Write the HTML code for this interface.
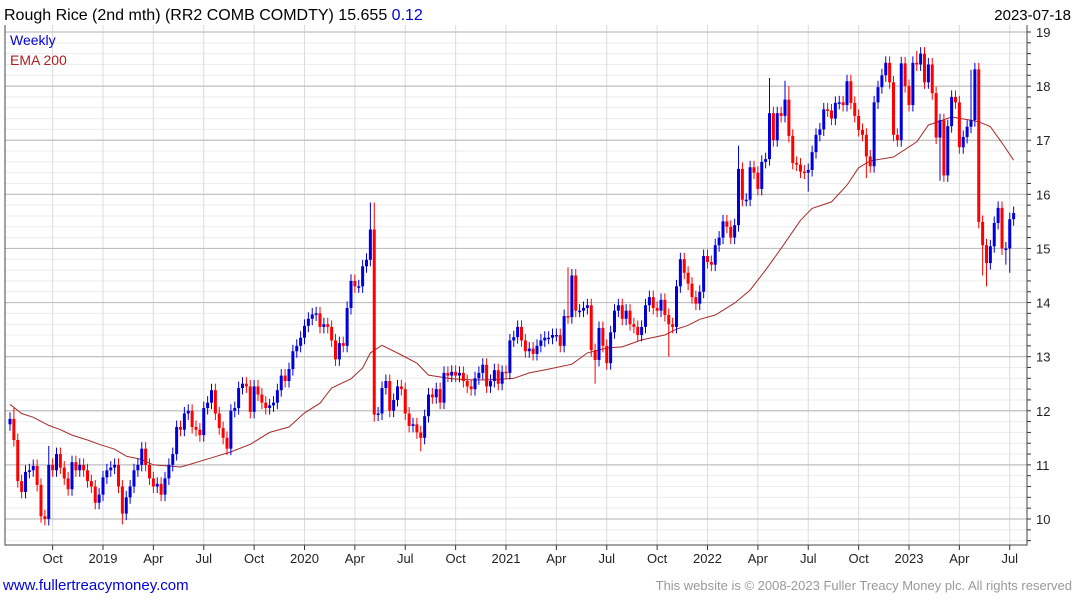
<!DOCTYPE html>
<html><head><meta charset="utf-8"><style>
body{margin:0;background:#fff;width:1075px;height:600px;overflow:hidden;font-family:"Liberation Sans",sans-serif}
</style></head><body>
<svg id="chart" width="1075" height="600" xmlns="http://www.w3.org/2000/svg" font-family="Liberation Sans, sans-serif">
<text x="4" y="20" font-size="16" fill="#000">Rough Rice (2nd mth) (RR2 COMB COMDTY) 15.655 <tspan fill="#0000dd">0.12</tspan></text>
<text x="1071" y="20" font-size="15" fill="#000" text-anchor="end">2023-07-18</text>
<g id="grid"></g><g id="ema"></g><g id="candles"></g><g id="axes"></g>
<text x="10" y="45" font-size="14" fill="#0000dd">Weekly</text>
<text x="10" y="65" font-size="14" fill="#b02020">EMA 200</text>
<text x="3" y="590" font-size="15" fill="#0000dd">www.fullertreacymoney.com</text>
<text x="1072" y="590" font-size="13" fill="#999" text-anchor="end">This website is © 2008-2023 Fuller Treacy Money plc. All rights reserved</text>
</svg>
<script>
const closes=[11.85,11.46,10.7,10.5,10.87,10.9,10.98,10.63,10.05,10.0,11.0,10.9,11.2,10.95,10.75,10.55,11.05,10.9,11.0,10.9,10.7,10.6,10.3,10.45,10.77,10.9,10.95,11.0,10.6,10.1,10.4,10.6,10.9,11.0,11.3,11.0,10.75,10.6,10.65,10.45,10.75,11.0,11.2,11.7,
11.65,11.95,12.0,11.7,11.65,11.55,12.05,12.15,12.38,11.95,11.68,11.5,11.3,12.0,12.05,12.42,12.5,12.45,11.98,12.45,12.3,12.15,12.05,12.1,12.15,12.38,12.65,12.55,12.77,13.1,13.2,13.35,13.57,13.7,13.78,13.8,13.55,13.6,13.55,13.3,12.95,13.25,13.2,
13.9,14.4,14.3,14.3,14.67,14.79,15.35,11.93,11.95,12.42,12.55,12.0,12.2,12.45,12.4,11.95,11.72,11.75,11.6,11.5,11.9,12.3,12.25,12.4,12.15,12.7,12.65,12.72,12.65,12.7,12.55,12.45,12.4,12.6,12.7,12.85,12.45,12.55,12.75,12.5,12.72,12.7,13.3,
13.36,13.55,13.3,13.1,13.15,13.05,13.2,13.3,13.35,13.35,13.4,13.4,13.2,13.75,13.73,14.5,13.85,13.85,13.9,13.95,13.12,12.94,13.53,13.2,12.88,13.45,13.85,13.95,13.7,13.85,13.6,13.55,13.4,13.55,13.95,14.1,13.9,13.85,14.05,13.77,13.6,13.55,14.3,14.8,
14.55,14.35,14.1,13.98,14.2,14.86,14.75,14.7,15.06,15.2,15.5,15.4,15.2,15.43,16.47,15.9,15.9,16.5,16.4,16.1,16.6,16.65,17.5,17.0,17.5,17.45,17.75,17.08,16.58,16.55,16.42,16.4,16.45,16.78,17.1,17.2,17.57,17.55,17.4,17.69,17.7,17.65,18.09,17.69,17.45,
17.19,17.1,16.7,16.52,17.7,17.98,18.2,18.43,18.07,17.1,17.0,18.42,18.0,17.65,18.43,18.4,18.6,18.07,18.4,17.87,17.05,17.37,16.35,17.26,17.8,17.7,16.87,17.06,17.25,17.37,18.31,15.49,15.06,14.73,15.04,15.47,15.75,15.0,15.0,15.54,15.655];
const firstOpen=11.75;
const highOverrideIdx=[1,9,10,93,94,144,188,196,200,201,216,234,248,249];
const highOverrideVal=[12.05,10.1,11.35,15.85,15.85,14.65,16.9,18.15,18.1,18.0,18.15,18.65,18.3,18.4];
const lowOverrideIdx=[8,9,10,29,94,106,151,170,206,221,240,251,252,257,258];
const lowOverrideVal=[9.95,9.9,9.95,9.9,11.8,11.25,12.5,13.0,16.05,16.3,16.25,14.5,14.3,14.7,14.55];
const emaWeek=[0,3,6,10,13,16,20,23,27,30,34,37,41,44,46,52,57,62,67,72,76,80,83,88,91,93,96,101,105,108,114,119,123,126,130,134,139,145,149,154,158,163,169,172,175,178,182,187,191,195,199,204,207,212,216,219,222,228,234,237,243,248,250,253,256,259];
const emaVal=[12.12,11.95,11.88,11.73,11.65,11.55,11.46,11.38,11.29,11.16,11.1,11.0,10.98,10.96,11.0,11.13,11.24,11.38,11.6,11.7,11.96,12.14,12.42,12.59,12.79,13.07,13.21,13.03,12.88,12.66,12.59,12.57,12.57,12.58,12.6,12.7,12.77,12.86,13.07,13.16,13.18,13.31,13.4,13.51,13.58,13.69,13.77,13.99,14.23,14.6,15.0,15.52,15.74,15.86,16.17,16.49,16.62,16.69,16.97,17.28,17.43,17.37,17.34,17.25,16.95,16.63,16.5];
const yTicks=[10,11,12,13,14,15,16,17,18,19];
const monthLabels=["Oct","2019","Apr","Jul","Oct","2020","Apr","Jul","Oct","2021","Apr","Jul","Oct","2022","Apr","Jul","Oct","2023","Apr","Jul"];
const monthWeek=[11,24,37,50,63,76,89,102,115,128,141,154,167,180,193,206,219,232,245,258];

const NS="http://www.w3.org/2000/svg";
const X0=10, STEP=3.875, PL=5, PR=1027, PT=25, PB=545;
const xs=i=>X0+i*STEP;
const ys=p=>32+(19-p)*54.11;
function mk(tag,attrs,parent){const e=document.createElementNS(NS,tag);for(const k in attrs)e.setAttribute(k,attrs[k]);parent.appendChild(e);return e;}
const grid=document.getElementById('grid'),axes=document.getElementById('axes'),cg=document.getElementById('candles'),eg=document.getElementById('ema');
// minor grid
for(let v=9.6;v<=19.01;v+=0.2){const y=ys(v);if(y<PT||y>PB)continue;const l=mk('line',{x1:PL,x2:PR,y1:y,y2:y,stroke:'#ececec','stroke-width':1},grid);

}
monthWeek.forEach((w,k)=>{const x=xs(w);const l=mk('line',{x1:x,x2:x,y1:PT,y2:PB,stroke:'#dcdcdc','stroke-width':1},grid);


const t=mk('text',{x:x,y:563,'font-size':13,'text-anchor':'middle',fill:'#222'},axes);t.textContent=monthLabels[k];


const tk=mk('line',{x1:x,x2:x,y1:PB,y2:PB+5,stroke:'#333'},axes);

});
yTicks.forEach(v=>{const y=ys(v);const l=mk('line',{x1:PL,x2:PR,y1:y,y2:y,stroke:'#c0c0c0','stroke-width':1.2},grid);


const t=mk('text',{x:1036,y:y+5,'font-size':13,fill:'#222'},axes);t.textContent=String(v);

});
for(let v=9.6;v<=19.01;v+=0.2){const y=ys(v);if(y<PT||y>PB)continue;const tk=mk('line',{x1:PR,x2:PR+4,y1:y,y2:y,stroke:'#333'},axes);

}
const frame=mk('path',{d:`M${PL} ${PT}V${PB}H${PR}V${PT}`,fill:'none',stroke:'#444','stroke-width':1},axes);


// EMA
const pts=emaWeek.map((w,k)=>xs(w).toFixed(1)+','+ys(emaVal[k]).toFixed(1)).join(' ');
const el=mk('polyline',{points:pts,fill:'none',stroke:'#a52a2a','stroke-width':1},eg);


// candles
closes.forEach((c,i)=>{
  const o=i===0?firstOpen:closes[i-1];
  let hi=Math.max(o,c)+0.12, lo=Math.min(o,c)-0.12;
  const hk=highOverrideIdx.indexOf(i); if(hk>=0) hi=Math.max(hi,highOverrideVal[hk]);
  const lk=lowOverrideIdx.indexOf(i); if(lk>=0) lo=Math.min(lo,lowOverrideVal[lk]);
  const col=c>=o?'#0000dd':'#ff0000';
  const x=xs(i);
  const g=mk('g',{},cg);
  
  
  mk('line',{x1:x,x2:x,y1:ys(hi),y2:ys(lo),stroke:col,'stroke-width':1},g);
  const top=ys(Math.max(o,c)),bot=ys(Math.min(o,c));
  mk('rect',{x:x-1.5,y:top,width:3,height:Math.max(1.5,bot-top),fill:col},g);
});
</script>
</body></html>
